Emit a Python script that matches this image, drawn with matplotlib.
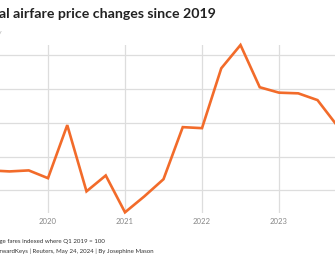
import matplotlib
matplotlib.use("Agg")
import matplotlib.pyplot as plt

quarters = ["Q1 2019", "Q2 2019", "Q3 2019", "Q4 2019",
            "Q1 2020", "Q2 2020", "Q3 2020", "Q4 2020",
            "Q1 2021", "Q2 2021", "Q3 2021", "Q4 2021",
            "Q1 2022", "Q2 2022", "Q3 2022", "Q4 2022",
            "Q1 2023", "Q2 2023", "Q3 2023", "Q4 2023",
            "Q1 2024"]
fare_index = [96.0, 95.9, 95.6, 95.9,
              93.6, 109.3, 89.7, 94.4,
              83.5, 88.2, 93.3, 108.7,
              108.4, 126.1, 133.0, 120.5,
              118.9, 118.7, 116.7, 109.3,
              104.8]
year_ticks = [2020, 2021, 2022, 2023]
value_ticks = [90, 100, 110, 120, 130]

def qpos(label):
    q, y = label.split()
    return int(y) + (int(q[1]) - 1) / 4

xs = [qpos(q) for q in quarters]

W, H = 335, 256
fig = plt.figure(figsize=(W / 100, H / 100), dpi=100)
ax = fig.add_axes([0, 1 - 213 / H, 1, (213 - 45) / H])

ax.plot(xs, fare_index, color="#f26b2a", lw=1.9, solid_joinstyle="miter", clip_on=False, zorder=3)

ax.set_xlim(2020 - 48 / 77, 2020 + (335 - 48) / 77)
ax.set_ylim(83.3, 133.0)
ax.set_xticks(year_ticks)
ax.set_xticklabels([str(y) for y in year_ticks])
ax.set_yticks(value_ticks)
ax.set_yticklabels([])
ax.tick_params(axis="both", length=0)
ax.tick_params(axis="x", pad=3.5, labelsize=5.6, labelcolor="#888888")
for lab in ax.get_xticklabels():
    lab.set_family("Lato")
ax.grid(True, color="#dddddd", lw=0.9)
ax.set_axisbelow(True)
for s in ax.spines.values():
    s.set_visible(False)

fig.text(216 / W, 1 - 14 / H, "Global airfare price changes since 2019",
         ha="right", va="center", fontsize=10.2, fontweight="bold",
         color="#222222", family="Lato")
fig.text(1.5 / W, 1 - 32 / H, "Index, quarterly",
         ha="right", va="center", fontsize=6, color="#bbbbbb", family="Lato")
fig.text(105 / W, 1 - 241 / H, "Note: Average fares indexed where Q1 2019 = 100",
         ha="right", va="center", fontsize=4.4, color="#333333", family="Lato")
fig.text(154 / W, 1 - 251 / H, "Source: ForwardKeys | Reuters, May 24, 2024 | By Josephine Mason",
         ha="right", va="center", fontsize=4.4, color="#333333", family="Lato")

fig.savefig("out.png", dpi=100)
